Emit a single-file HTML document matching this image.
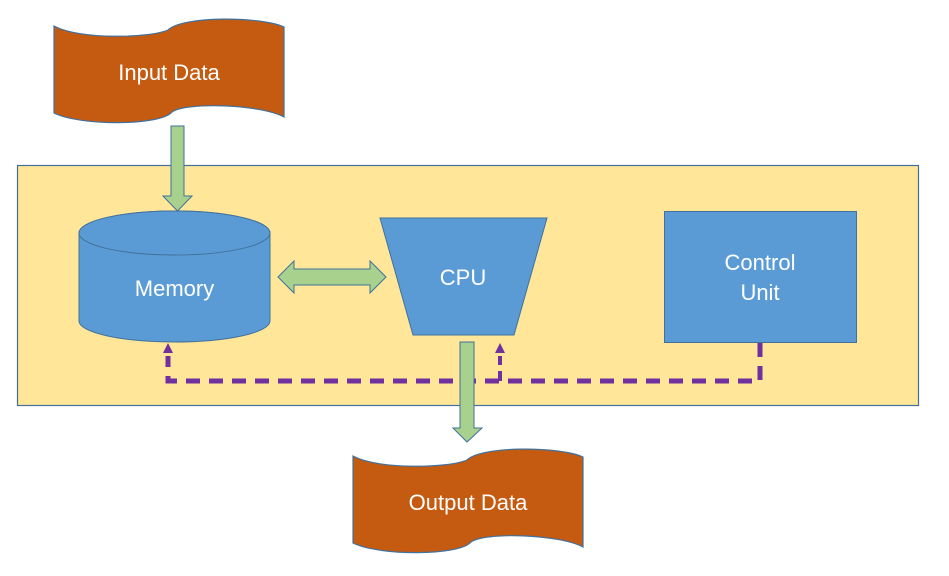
<!DOCTYPE html>
<html><head><style>
html,body{margin:0;padding:0;background:#fff;}
svg{display:block;}
text{font-family:"Liberation Sans",sans-serif;fill:#fff;font-size:22px;text-anchor:middle;}
</style></head><body>
<svg width="949" height="576" viewBox="0 0 949 576">
<defs>
<path id="tape" d="M54,26 C80,40 150,38 168,30 C182,16 260,16 284,27 L284,117 C260,104 185,102 172,112 C160,126 80,126 54,113 Z"/>
</defs>
<use href="#tape" fill="#C55A11" stroke="#41719C" stroke-width="1.2"/>
<text x="169" y="80">Input Data</text>
<g transform="translate(299,430)">
<use href="#tape" fill="#C55A11" stroke="#41719C" stroke-width="1.2"/>
</g>
<text x="468" y="510">Output Data</text>

<rect x="17.5" y="165.5" width="901" height="240" fill="#FFE699" stroke="#41719C" stroke-width="1.2"/>

<path d="M171,126 H184 V196 H192 L177.5,211 L163,196 H171 Z" fill="#A9D18E" stroke="#41719C" stroke-width="1"/>

<path d="M79,233 A95.5,22 0 0 1 270,233 V321 A95.5,21 0 0 1 79,321 Z" fill="#5B9BD5" stroke="#41719C" stroke-width="1"/>
<ellipse cx="174.5" cy="233" rx="95.5" ry="22" fill="#5B9BD5" stroke="#41719C" stroke-width="1"/>
<text x="174.5" y="296">Memory</text>

<path d="M278,277 L294,261 V269 H370 V261 L386,277 L370,293 V285 H294 V293 Z" fill="#A9D18E" stroke="#41719C" stroke-width="1"/>

<path d="M380,218 H547 L514,335 H413 Z" fill="#5B9BD5" stroke="#41719C" stroke-width="1"/>
<text x="463" y="285">CPU</text>

<rect x="664.5" y="211.5" width="192" height="131" fill="#5B9BD5" stroke="#41719C" stroke-width="1"/>
<text x="760" y="270">Control</text>
<text x="760" y="300">Unit</text>

<path d="M760,343 V381 H168 V356" fill="none" stroke="#7030A0" stroke-width="5" stroke-dasharray="14,9"/>
<path d="M500,381 V356" fill="none" stroke="#7030A0" stroke-width="4" stroke-dasharray="10,6"/>
<path d="M163,353 L168,343 L173,353 Z" fill="#7030A0"/>
<path d="M495,353 L500,343 L505,353 Z" fill="#7030A0"/>

<path d="M460,342 H474 V428 H482 L467,442 L453,428 H460 Z" fill="#A9D18E" stroke="#41719C" stroke-width="1"/>
</svg>
</body></html>
